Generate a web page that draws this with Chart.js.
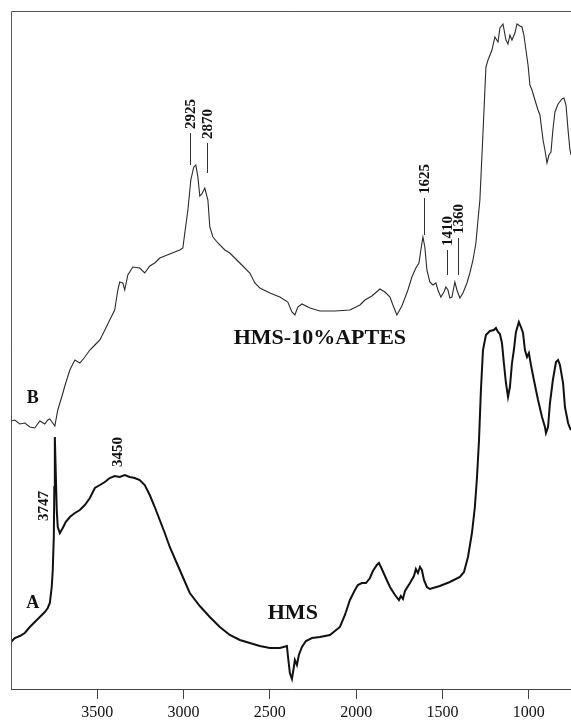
<!DOCTYPE html>
<html>
<head>
<meta charset="utf-8">
<script src="https://cdn.jsdelivr.net/npm/chart.js@4.4.1/dist/chart.umd.min.js"></script>
<style>
  html, body { margin: 0; padding: 0; background: #fff; }
  canvas { display: block; }
</style>
</head>
<body>
<canvas id="ftirChart" width="571" height="724"></canvas>
<script>
// wavenumber ticks (cm-1) along the bottom axis
const xTicks = [3500, 3000, 2500, 2000, 1500, 1000];

// B: HMS-10%APTES (upper, thin trace), arbitrary intensity units
const wnB = [4000, 3978, 3949, 3920, 3891, 3862, 3833, 3804, 3787, 3775, 3758, 3746, 3729, 3706, 3683, 3659, 3630, 3601, 3572, 3543,
  3514, 3485, 3456, 3428, 3399, 3381, 3370, 3352, 3341, 3323, 3294, 3254, 3225, 3196, 3167, 3138, 3080, 3022, 3004, 2993,
  2975, 2958, 2941, 2929, 2917, 2906, 2894, 2877, 2859, 2848, 2830, 2801, 2761, 2732, 2674, 2616, 2587, 2558, 2500, 2442,
  2396, 2372, 2355, 2338, 2314, 2268, 2210, 2123, 2036, 1978, 1949, 1909, 1862, 1833, 1804, 1787, 1764, 1735, 1700, 1677,
  1654, 1636, 1625, 1613, 1602, 1590, 1573, 1555, 1538, 1526, 1509, 1491, 1480, 1468, 1457, 1445, 1428, 1416, 1399, 1381,
  1358, 1341, 1323, 1306, 1294, 1283, 1265, 1248, 1236, 1213, 1196, 1178, 1167, 1149, 1132, 1120, 1109, 1097, 1080, 1068,
  1051, 1039, 1028, 1016, 1004, 993, 981, 964, 946, 935, 917, 906, 894, 883, 871, 860, 848, 830, 807, 796,
  784, 772, 761, 755];
const absB = [268, 269, 265, 266, 262, 261, 268, 265, 269, 270, 266, 263, 279, 292, 306, 319, 329, 326, 332, 339,
  344, 349, 359, 369, 379, 399, 407, 406, 399, 414, 422, 421, 416, 423, 426, 431, 435, 439, 441, 456,
  479, 509, 522, 524, 512, 493, 495, 501, 489, 462, 452, 446, 439, 436, 426, 416, 406, 401, 396, 392,
  387, 377, 374, 382, 385, 381, 378, 378, 379, 384, 389, 393, 400, 397, 392, 384, 374, 383, 399, 412,
  421, 426, 439, 452, 442, 419, 407, 404, 406, 399, 392, 397, 402, 399, 391, 392, 407, 399, 391, 396,
  406, 416, 429, 446, 469, 489, 556, 622, 629, 639, 652, 647, 661, 665, 649, 645, 654, 649, 656, 665,
  663, 662, 654, 639, 624, 604, 599, 589, 579, 574, 549, 539, 526, 534, 537, 559, 577, 585, 590, 591,
  584, 559, 539, 534];

// A: HMS (lower, bold trace)
const wnA = [4000, 3978, 3949, 3920, 3891, 3862, 3833, 3804, 3787, 3775, 3764, 3758, 3752, 3749, 3746, 3741, 3735, 3729, 3717, 3700,
  3683, 3659, 3630, 3601, 3572, 3543, 3514, 3485, 3456, 3428, 3399, 3370, 3341, 3312, 3283, 3254, 3225, 3196, 3167, 3138,
  3109, 3080, 3022, 2964, 2906, 2848, 2790, 2732, 2674, 2616, 2558, 2500, 2442, 2401, 2396, 2384, 2372, 2361, 2355, 2343,
  2332, 2314, 2291, 2256, 2210, 2152, 2123, 2094, 2065, 2036, 2007, 1990, 1967, 1943, 1920, 1903, 1880, 1868, 1851, 1828,
  1804, 1775, 1752, 1741, 1729, 1717, 1688, 1665, 1654, 1642, 1630, 1619, 1607, 1590, 1573, 1515, 1457, 1399, 1375, 1352,
  1329, 1312, 1300, 1288, 1277, 1265, 1248, 1225, 1202, 1190, 1178, 1167, 1155, 1144, 1132, 1120, 1109, 1097, 1086, 1074,
  1057, 1045, 1033, 1022, 1010, 999, 987, 970, 946, 923, 906, 900, 888, 877, 860, 842, 830, 819, 801, 790,
  772, 761, 755];
const absA = [47, 51, 53, 56, 62, 67, 72, 77, 81, 86, 102, 119, 152, 202, 252, 219, 179, 162, 156, 161,
  167, 172, 176, 179, 184, 191, 201, 204, 207, 211, 213, 212, 214, 212, 211, 209, 204, 194, 182, 169,
  156, 142, 119, 96, 83, 72, 62, 54, 49, 46, 43, 41, 41, 43, 34, 16, 10, 22, 29, 24,
  34, 42, 48, 51, 52, 54, 58, 62, 74, 89, 99, 104, 106, 106, 111, 118, 124, 126, 120, 111,
  102, 94, 89, 93, 90, 98, 106, 113, 120, 116, 122, 119, 109, 102, 100, 103, 107, 112, 117, 132,
  156, 182, 211, 249, 299, 339, 354, 358, 359, 361, 357, 355, 346, 326, 306, 292, 302, 326, 339, 357,
  367, 362, 356, 339, 332, 336, 324, 309, 289, 272, 262, 256, 262, 286, 309, 327, 329, 324, 306, 282,
  266, 261, 259];

// peak markers: text, wavenumber of the marker line, line top / bottom intensity
const peakText = ['2925', '2870', '1625', '1410', '1360'];
const peakWn = [2964, 2865, 1607, 1474, 1410];
const peakTop = [556, 546, 491, 439, 451];
const peakBottom = [524, 516, 454, 414, 414];

// free labels
const noteText = ['3450', '3747', 'B', 'A', 'HMS-10%APTES', 'HMS'];
const noteWn = [3387, 3816, 3874, 3874, 2210, 2367];
const noteAbs = [237, 183, 292, 87, 352, 77];

const pairs = (xs, ys) => xs.map((v, i) => ({ x: v, y: ys[i] }));

const serif = '"Liberation Serif", "Times New Roman", serif';

// frame, peak markers and text labels
const decorations = {
    id: 'decorations',
    afterDatasetsDraw(chart) {
        const { ctx, chartArea, scales } = chart;
        const xs = scales.x, ys = scales.y;
        ctx.save();

        // left and top frame lines
        ctx.strokeStyle = '#555';
        ctx.lineWidth = 1;
        ctx.beginPath();
        ctx.moveTo(chartArea.left + 0.5, chartArea.bottom);
        ctx.lineTo(chartArea.left + 0.5, chartArea.top + 0.5);
        ctx.lineTo(chartArea.right, chartArea.top + 0.5);
        ctx.stroke();

        // peak markers
        ctx.fillStyle = '#111';
        ctx.strokeStyle = '#333';
        ctx.font = 'bold 15px ' + serif;
        peakText.forEach((t, i) => {
            const px = Math.round(xs.getPixelForValue(peakWn[i])) + 0.5;
            const top = ys.getPixelForValue(peakTop[i]);
            const bot = ys.getPixelForValue(peakBottom[i]);
            ctx.beginPath();
            ctx.moveTo(px, bot);
            ctx.lineTo(px, top);
            ctx.stroke();
            ctx.save();
            ctx.translate(px, top - 4);
            ctx.rotate(-Math.PI / 2);
            ctx.textAlign = 'left';
            ctx.textBaseline = 'middle';
            ctx.fillText(t, 0, 1);
            ctx.restore();
        });

        // other labels
        noteText.forEach((t, i) => {
            const px = xs.getPixelForValue(noteWn[i]);
            const py = ys.getPixelForValue(noteAbs[i]);
            ctx.save();
            ctx.translate(px, py);
            ctx.textAlign = 'center';
            ctx.textBaseline = 'middle';
            if (/^\d+$/.test(t)) {
                ctx.rotate(-Math.PI / 2);
                ctx.font = 'bold 15px ' + serif;
            } else if (t.length === 1) {
                ctx.font = 'bold 18px ' + serif;
            } else {
                ctx.font = 'bold 22px ' + serif;
            }
            ctx.fillText(t, 0, 1);
            ctx.restore();
        });
        ctx.restore();
    }
};

new Chart(document.getElementById('ftirChart'), {
    type: 'line',
    data: {
        datasets: [
            {
                label: 'HMS-10%APTES',
                data: pairs(wnB, absB),
                borderColor: '#2a2a2a',
                borderWidth: 1.1,
                pointRadius: 0,
                tension: 0
            },
            {
                label: 'HMS',
                data: pairs(wnA, absA),
                borderColor: '#111',
                borderWidth: 2,
                pointRadius: 0,
                tension: 0
            }
        ]
    },
    options: {
        responsive: false,
        animation: false,
        devicePixelRatio: 1,
        layout: { padding: { left: 11, top: 11, right: 0, bottom: 0 } },
        plugins: {
            legend: { display: false },
            tooltip: { enabled: false }
        },
        scales: {
            x: {
                type: 'linear',
                reverse: true,
                min: 755,
                max: 4000,
                afterBuildTicks: (scale) => { scale.ticks = xTicks.map(v => ({ value: v })); },
                afterFit: (scale) => { scale.height = 35; },
                grid: { drawOnChartArea: false, drawTicks: true, tickLength: 10, color: '#444' },
                border: { display: true, color: '#444', width: 1 },
                ticks: {
                    color: '#111',
                    padding: 4,
                    maxRotation: 0,
                    autoSkip: false,
                    font: { family: serif, size: 16 },
                    callback: (v) => String(v)
                }
            },
            y: {
                display: false,
                min: 0,
                max: 678
            }
        }
    },
    plugins: [decorations]
});
</script>
</body>
</html>
